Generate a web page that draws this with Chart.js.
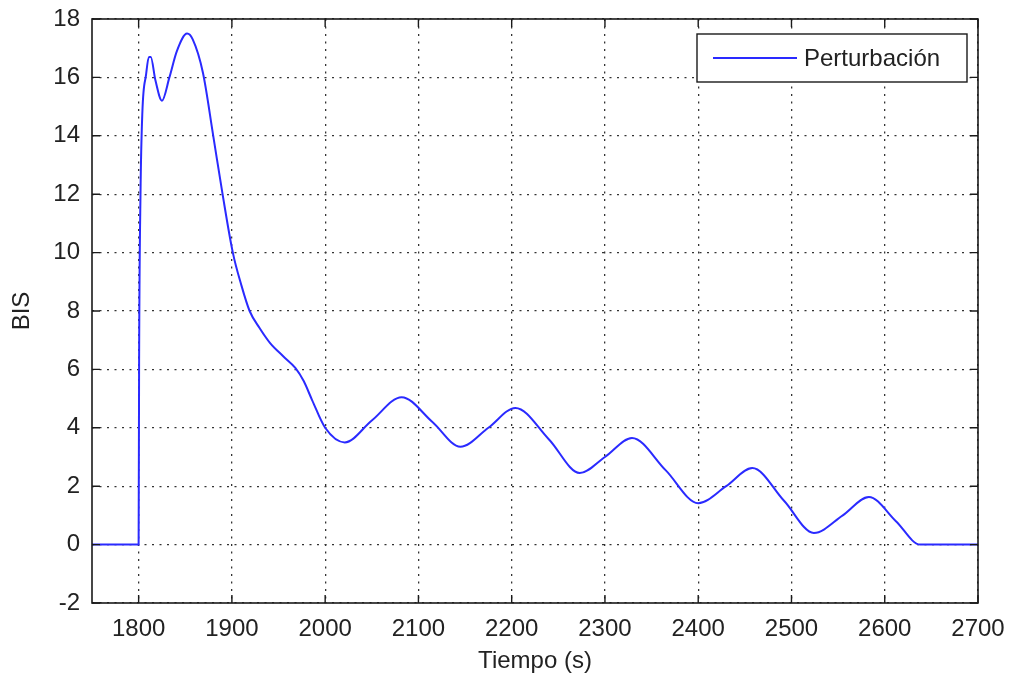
<!DOCTYPE html>
<html>
<head>
<meta charset="utf-8">
<script src="https://cdn.jsdelivr.net/npm/chart.js@4"></script>
<style>
    html, body { margin: 0; padding: 0; background: #fff; }
    #wrap { width: 1009px; height: 676px; }
</style>
</head>
<body>
<div id="wrap"><canvas id="chart"></canvas></div>
<script>
const seriesLabel = 'Perturbación'
const timeValues = [1750, 1800, 1800.5, 1802, 1804, 1808, 1811, 1813, 1818, 1825, 1833, 1841, 1852, 1858, 1869, 1880, 1890, 1901, 1910, 1919, 1930, 1941, 1955, 1968, 1977, 1986, 2000, 2021, 2050, 2082, 2115, 2145, 2175, 2204, 2240, 2273, 2300, 2329, 2365, 2400, 2430, 2458, 2492, 2524, 2555, 2583, 2612, 2638, 2700]
const bisValues = [0, 0, 6.3, 12, 14.8, 16.1, 16.7, 16.7, 15.9, 15.2, 16.0, 16.9, 17.5, 17.3, 16.15, 14.0, 12.0, 10.0, 8.9, 8.0, 7.4, 6.9, 6.45, 6.05, 5.6, 4.95, 4.0, 3.5, 4.25, 5.05, 4.2, 3.35, 4.0, 4.68, 3.6, 2.45, 3.0, 3.65, 2.55, 1.42, 2.0, 2.62, 1.5, 0.4, 1.0, 1.63, 0.8, 0, 0]
const xTicks = [1800, 1900, 2000, 2100, 2200, 2300, 2400, 2500, 2600, 2700]
const yTicks = [-2, 0, 2, 4, 6, 8, 10, 12, 14, 16, 18]

const lineColor = '#2a2aff'
const font = { family: '"Liberation Sans", Arial, sans-serif', size: 24 }

// matlab style frame, inward ticks and boxed legend
const matlabPlugin = {
    id: 'matlab',
    afterDraw(chart) {
        const { ctx, chartArea: a, scales } = chart
        ctx.save()
        ctx.strokeStyle = '#1a1a1a'
        ctx.lineWidth = 1.6
        ctx.strokeRect(a.left, a.top, a.right - a.left, a.bottom - a.top)

        ctx.lineWidth = 1.4
        ctx.beginPath()
        xTicks.forEach(v => {
            const x = scales.x.getPixelForValue(v)
            ctx.moveTo(x, a.bottom); ctx.lineTo(x, a.bottom - 8)
            ctx.moveTo(x, a.top); ctx.lineTo(x, a.top + 8)
        })
        yTicks.forEach(v => {
            const y = scales.y.getPixelForValue(v)
            ctx.moveTo(a.left, y); ctx.lineTo(a.left + 8, y)
            ctx.moveTo(a.right, y); ctx.lineTo(a.right - 8, y)
        })
        ctx.stroke()

        // legend
        const box = { left: a.right - 281, top: a.top + 15, width: 270, height: 48 }
        ctx.fillStyle = '#fff'
        ctx.fillRect(box.left, box.top, box.width, box.height)
        ctx.lineWidth = 1.4
        ctx.strokeStyle = '#1a1a1a'
        ctx.strokeRect(box.left, box.top, box.width, box.height)
        const midY = box.top + box.height / 2
        ctx.strokeStyle = lineColor
        ctx.lineWidth = 2
        ctx.beginPath()
        ctx.moveTo(box.left + 16, midY); ctx.lineTo(box.left + 100, midY)
        ctx.stroke()
        ctx.fillStyle = '#222'
        ctx.font = `${font.size}px ${font.family}`
        ctx.textBaseline = 'middle'
        ctx.fillText(chart.data.datasets[0].label, box.left + 107, midY + 1)
        ctx.restore()
    }
}

const gridStyle = {
    color: '#333',
    lineWidth: 1.3,
    drawTicks: false
}

new Chart(document.getElementById('chart'), {
    type: 'line',
    data: {
        datasets: [{
            label: seriesLabel,
            data: timeValues.map((t, i) => ({ x: t, y: bisValues[i] })),
            borderColor: lineColor,
            borderWidth: 2,
            pointRadius: 0,
            cubicInterpolationMode: 'monotone',
            fill: false
        }]
    },
    options: {
        responsive: true,
        maintainAspectRatio: false,
        animation: false,
        layout: { padding: { top: 19, right: 31, left: 0, bottom: 0 } },
        plugins: {
            legend: { display: false },
            tooltip: { enabled: false }
        },
        scales: {
            x: {
                type: 'linear',
                min: 1750,
                max: 2700,
                afterBuildTicks: scale => { scale.ticks = xTicks.map(value => ({ value })) },
                afterFit: scale => {
                    scale.height = 73
                    scale.paddingLeft = 0
                    scale.paddingRight = 0
                },
                border: { display: false, dash: [2, 5.5] },
                grid: gridStyle,
                ticks: { color: '#222', font, padding: 12, maxRotation: 0, autoSkip: false, callback: v => String(v) },
                title: { display: true, text: 'Tiempo (s)', color: '#222', font, padding: { top: 0, bottom: 0 } }
            },
            y: {
                min: -2,
                max: 18,
                afterBuildTicks: scale => { scale.ticks = yTicks.map(value => ({ value })) },
                afterFit: scale => {
                    scale.width = 92
                    scale.paddingTop = 0
                    scale.paddingBottom = 0
                },
                border: { display: false, dash: [2, 5.5] },
                grid: gridStyle,
                ticks: { color: '#222', font, padding: 12, autoSkip: false, callback: v => String(v) },
                title: { display: true, text: 'BIS', color: '#222', font, padding: { top: 8, bottom: 0 } }
            }
        }
    },
    plugins: [matlabPlugin]
})
</script>
</body>
</html>
